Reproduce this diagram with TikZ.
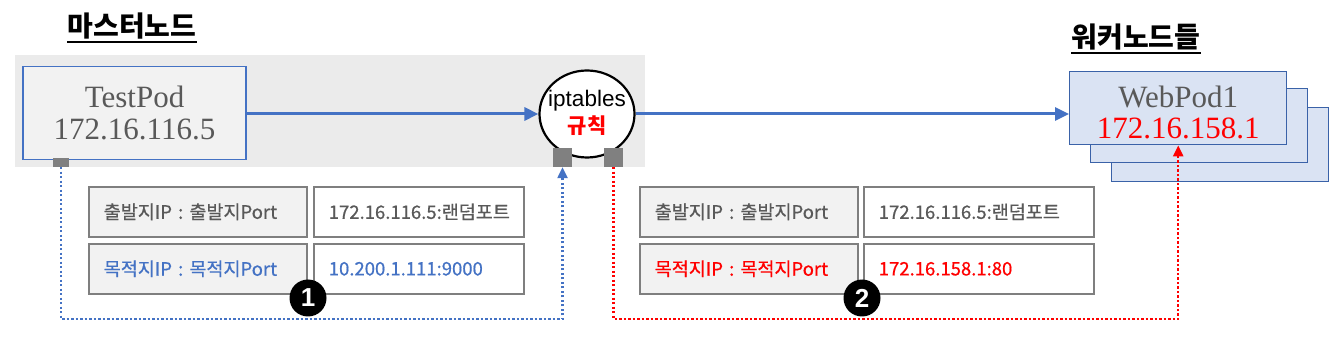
\documentclass[tikz,border=0pt]{standalone}
\usepackage{fontspec}
\setmainfont{Liberation Serif}
\newfontfamily\kr{Noto Sans CJK KR}
\newfontfamily\krm[FakeBold=0.7]{Noto Sans CJK KR}
\newfontfamily\arial{Liberation Sans}
\usetikzlibrary{arrows.meta,shapes.geometric}
\definecolor{myblue}{HTML}{4472C4}
\definecolor{txtgray}{HTML}{595959}
\definecolor{bandgray}{HTML}{EBEBEB}
\definecolor{cellgray}{HTML}{F2F2F2}
\definecolor{cellborder}{HTML}{7F7F7F}
\definecolor{sqgray}{HTML}{808080}
\definecolor{podfill}{HTML}{DAE3F3}
\definecolor{podborder}{HTML}{3A62A8}
\definecolor{myred}{HTML}{FF0000}
\tikzset{
  title/.style={inner sep=0pt, font=\kr\bfseries\fontsize{28}{30}\selectfont, text=black},
  uline/.style={line width=2.2pt, black},
  podbox/.style={draw=myblue, fill=cellgray, line width=1.6pt, inner sep=0pt,
     minimum width=223pt, minimum height=93pt, align=center, text=txtgray,
     font=\fontsize{31}{32}\selectfont},
  wpbox/.style={draw=podborder, fill=podfill, line width=1.4pt, inner sep=0pt,
     minimum width=217pt, minimum height=74pt, anchor=north west},
  wptext/.style={align=center, inner sep=0pt, font=\fontsize{31}{31}\selectfont},
  iptnode/.style={ellipse, draw=black, fill=white, line width=2.2pt, inner sep=0pt,
     minimum width=95pt, minimum height=87pt},
  ipttext/.style={inner sep=0pt, font=\arial\fontsize{22.5}{24}\selectfont},
  rule/.style={inner sep=0pt, text=myred, font=\kr\bfseries\fontsize{21}{22}\selectfont},
  sq/.style={fill=sqgray, inner sep=0pt},
  flow/.style={myblue, line width=3pt, -{Triangle[length=14pt,width=13pt]}},
  cellA/.style={draw=cellborder, fill=cellgray, line width=1.6pt, anchor=north west,
     inner xsep=15pt, inner ysep=0pt, minimum height=50pt, text width=188pt, align=left,
     font=\krm\fontsize{18.5}{20}\selectfont, text=txtgray},
  cellB/.style={cellA, fill=white},
  bluedot/.style={myblue, line width=2.3pt, dash pattern=on 2.3pt off 2.2pt,
     -{Triangle[length=11pt,width=10pt]}},
  reddot/.style={myred, line width=2.3pt, dash pattern=on 2.3pt off 2.2pt,
     -{Triangle[length=11pt,width=10pt]}},
  numc/.style={circle, fill=black, text=white, minimum size=37pt, inner sep=0pt,
     font=\arial\bfseries\fontsize{26}{26}\selectfont}
}
\begin{document}
\begin{tikzpicture}[x=1pt,y=-1pt]
\useasboundingbox (0,0) rectangle (1340,352);
% titles
\node[title] (t1) at (132,26) {마스터노드};
\draw[uline] ([yshift=-3pt]t1.south west) -- ([yshift=-3pt]t1.south east);
\node[title] (t2) at (1136,37) {워커노드들};
\draw[uline] ([yshift=-3pt]t2.south west) -- ([yshift=-3pt]t2.south east);
% master band
\fill[bandgray] (15,55) rectangle (645,167);
% TestPod
\node[podbox] (testpod) at (134.5,113) {TestPod\\172.16.116.5};
% iptables
\node[iptnode] (ipt) at (587,114) {};
\node[ipttext] (iptlabel) at (587,101) {iptables};
\node[rule] (rulelabel) at (587,126) {규칙};
% ports
\node[sq, minimum width=16pt, minimum height=9pt] (sq1) at (61,162.5) {};
\node[sq, minimum width=19pt, minimum height=19pt] (sqL) at (562.5,157.5) {};
\node[sq, minimum width=19pt, minimum height=19pt] (sqR) at (613.5,157.5) {};
% worker pods
\node[wpbox] (wp3) at (1111,107) {};
\node[wpbox] (wp2) at (1090,88) {};
\node[wpbox, minimum height=73pt] (webpod) at (1069,71) {};
\node[wptext] (wplabel) at ([yshift=-4pt]webpod.center) {\textcolor{txtgray}{WebPod1}\\\textcolor{myred}{172.16.158.1}};
% flows
\draw[flow] (testpod.east |- ipt.west) -- (ipt.west);
\draw[flow] (ipt.east) -- (ipt.east -| webpod.west);
% left table
\node[cellA] (l11) at (88,186) {출발지IP : 출발지Port};
\node[cellB, text width=180pt] (l12) at (313,186) {172.16.116.5:랜덤포트};
\node[cellA, text=myblue] (l21) at (88,243) {목적지IP : 목적지Port};
\node[cellB, text width=180pt, text=myblue] (l22) at (313,243) {10.200.1.111:9000};
% right table
\node[cellA] (r11) at (639,186) {출발지IP : 출발지Port};
\node[cellB, text width=200pt] (r12) at (863,186) {172.16.116.5:랜덤포트};
\node[cellA, text=myred] (r21) at (639,243) {목적지IP : 목적지Port};
\node[cellB, text width=200pt, text=myred] (r22) at (863,243) {172.16.158.1:80};
% dotted paths
\coordinate (bot) at (0,319);
\draw[bluedot] (sq1.south) -- (sq1.south |- bot) -| (sqL.south);
\draw[reddot] (sqR.south) -- (sqR.south |- bot) -| (webpod.south);
% numbers
\node[numc] (n1) at (308,298) {1};
\node[numc] (n2) at (862,298) {2};
\end{tikzpicture}
\end{document}
